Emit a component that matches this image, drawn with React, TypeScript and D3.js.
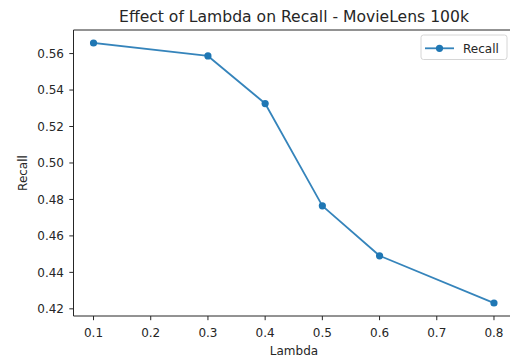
import React from "react";
import * as d3 from "d3";

const lambdas = [0.1, 0.3, 0.4, 0.5, 0.6, 0.8];
const recall = [0.5658, 0.5587, 0.5326, 0.4765, 0.4491, 0.4232];
const xTicks = [0.1, 0.2, 0.3, 0.4, 0.5, 0.6, 0.7, 0.8];
const yTicks = [0.42, 0.44, 0.46, 0.48, 0.5, 0.52, 0.54, 0.56];
const title = "Effect of Lambda on Recall - MovieLens 100k";
const xLabel = "Lambda";
const yLabel = "Recall";
const seriesName = "Recall";

export default function App() {
  const W = 510, H = 360;
  const left = 73.5, right = 514, top = 30, bottom = 316;
  const font = "DejaVu Sans, sans-serif";
  const txt = "#262626";
  const color = "#1f77b4";

  const xMin = d3.min(lambdas)!, xMax = d3.max(lambdas)!;
  const xPad = (xMax - xMin) * 0.05;
  const yMin = d3.min(recall)!, yMax = d3.max(recall)!;
  const yPad = (yMax - yMin) * 0.05;
  const x = d3.scaleLinear().domain([xMin - xPad, xMax + xPad]).range([left, right]);
  const y = d3.scaleLinear().domain([yMin - yPad, yMax + yPad]).range([bottom, top]);

  const pts = lambdas.map((l, i) => [x(l), y(recall[i])] as [number, number]);
  const line = d3.line()(pts)!;

  const lg = { x0: 421, x1: 507, y0: 35, y1: 59.5 };
  const lgMid = 48.3;

  return (
    <svg width={W} height={H} style={{ position: "absolute", left: 0, top: 0, background: "#fff" }}>
      <rect x={0} y={0} width={W} height={H} fill="#fff" />
      <text x={294} y={22} textAnchor="middle" fontFamily={font} fontSize={15.6} fill={txt}>
        {title}
      </text>
      <path d={line} fill="none" stroke={color} strokeOpacity={0.9} strokeWidth={1.8} strokeLinejoin="round" strokeLinecap="square" />
      {pts.map((p, i) => (
        <circle key={i} cx={p[0]} cy={p[1]} r={3.6} fill={color} />
      ))}
      {/* spines */}
      <path
        d={`M${left},${top}H${right}V${bottom}H${left}Z`}
        fill="none"
        stroke={txt}
        strokeWidth={1}
      />
      {xTicks.map((t) => (
        <g key={"x" + t}>
          <line x1={x(t)} x2={x(t)} y1={bottom} y2={bottom + 4.2} stroke={txt} strokeWidth={1} />
          <text x={x(t)} y={337} textAnchor="middle" fontFamily={font} fontSize={12} fill={txt}>
            {d3.format(".1f")(t)}
          </text>
        </g>
      ))}
      {yTicks.map((t) => (
        <g key={"y" + t}>
          <line x1={left - 4.2} x2={left} y1={y(t)} y2={y(t)} stroke={txt} strokeWidth={1} />
          <text x={64} y={y(t)} dy="0.36em" textAnchor="end" fontFamily={font} fontSize={12} fill={txt}>
            {d3.format(".2f")(t)}
          </text>
        </g>
      ))}
      <text x={294} y={354.5} textAnchor="middle" fontFamily={font} fontSize={12} fill={txt}>
        {xLabel}
      </text>
      <text
        transform={`translate(27,${(top + bottom) / 2}) rotate(-90)`}
        textAnchor="middle"
        fontFamily={font}
        fontSize={12}
        fill={txt}
      >
        {yLabel}
      </text>
      {/* legend */}
      <rect
        x={lg.x0}
        y={lg.y0}
        width={lg.x1 - lg.x0}
        height={lg.y1 - lg.y0}
        rx={2.5}
        fill="#fff"
        fillOpacity={0.8}
        stroke="#d6d6d6"
        strokeWidth={1}
      />
      <line x1={425} x2={454} y1={lgMid} y2={lgMid} stroke={color} strokeOpacity={0.9} strokeWidth={1.8} />
      <circle cx={439.5} cy={lgMid} r={3.6} fill={color} />
      <text x={463} y={lgMid} dy="0.36em" fontFamily={font} fontSize={12} fill={txt}>
        {seriesName}
      </text>
    </svg>
  );
}
